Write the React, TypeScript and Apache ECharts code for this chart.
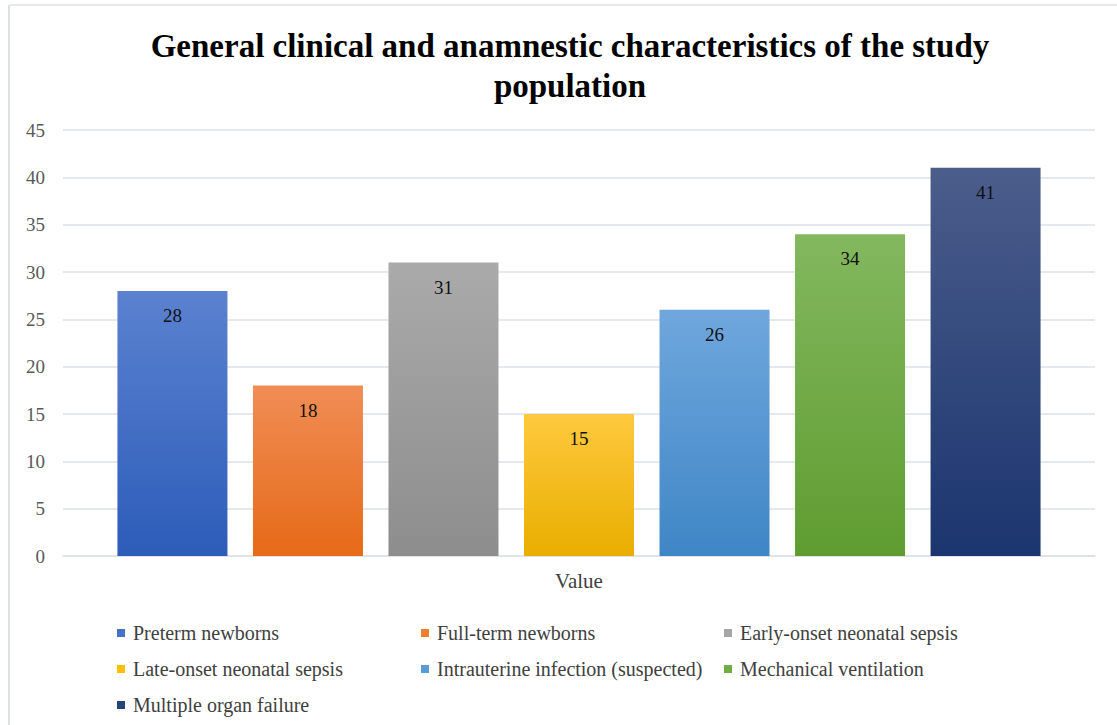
import React, { useEffect, useRef } from "react";
import * as echarts from "echarts";

// Category label on the x axis
const categories = ["Value"];

// One bar per characteristic
const seriesNames = [
  "Preterm newborns",
  "Full-term newborns",
  "Early-onset neonatal sepsis",
  "Late-onset neonatal sepsis",
  "Intrauterine infection (suspected)",
  "Mechanical ventilation",
  "Multiple organ failure",
];
const seriesValues = [28, 18, 31, 15, 26, 34, 41];

// Gradient stops (top, bottom) for each bar
const topColors = ["#5b82d0", "#f08d55", "#aaaaaa", "#fec93e", "#6fa7dd", "#83b85f", "#4b5d8b"];
const bottomColors = ["#2c5cb9", "#e66a18", "#8d8d8d", "#e9ae00", "#3f86c6", "#5f9c30", "#1b356f"];
const legendColors = ["#4472c4", "#ed7d31", "#a5a5a5", "#ffc000", "#5b9bd5", "#70ad47", "#264478"];

// Legend column layout (indices into seriesNames)
const legendColumns = [
  [0, 3, 6],
  [1, 4],
  [2, 5],
];
const legendColumnLeft = [112, 416, 719];

const yTicks = { min: 0, max: 45, interval: 5 };

const FONT = "Liberation Serif";

export default function App() {
  const ref = useRef<HTMLDivElement>(null);

  useEffect(() => {
    if (!ref.current) return;
    const chart = echarts.init(ref.current, undefined, { renderer: "svg" });

    const series = seriesNames.map((name, i) => ({
      name,
      type: "bar",
      data: [seriesValues[i]],
      barWidth: 110,
      barGap: "23.2%",
      itemStyle: {
        color: new echarts.graphic.LinearGradient(0, 0, 0, 1, [
          { offset: 0, color: topColors[i] },
          { offset: 1, color: bottomColors[i] },
        ]),
      },
      label: {
        show: true,
        position: "insideTop",
        distance: 15,
        color: "#111111",
        fontFamily: FONT,
        fontSize: 19,
      },
    }));

    const legends = legendColumns.map((col, c) => ({
      orient: "vertical",
      left: legendColumnLeft[c],
      top: 618,
      icon: "rect",
      itemWidth: 8,
      itemHeight: 8,
      itemGap: 16,
      textStyle: {
        fontFamily: FONT,
        fontSize: 20,
        color: "#404040",
        lineHeight: 20,
        padding: [0, 0, 0, 3],
      },
      data: col.map((i) => ({
        name: seriesNames[i],
        itemStyle: { color: legendColors[i] },
      })),
    }));

    chart.setOption({
      animation: false,
      backgroundColor: "#ffffff",
      title: {
        text: "General clinical and anamnestic characteristics of the study\npopulation",
        left: 565,
        textAlign: "center",
        top: 21,
        textStyle: {
          fontFamily: FONT,
          fontWeight: "bold",
          fontSize: 33,
          lineHeight: 40,
          color: "#000000",
        },
      },
      grid: { left: 63, right: 22, top: 130, bottom: 169, containLabel: false },
      legend: legends,
      xAxis: {
        type: "category",
        data: categories,
        axisLine: { show: true, lineStyle: { color: "#dde1e8", width: 1.5 } },
        axisTick: { show: false },
        axisLabel: {
          margin: 14,
          fontFamily: FONT,
          fontSize: 21,
          color: "#404040",
        },
      },
      yAxis: {
        type: "value",
        min: yTicks.min,
        max: yTicks.max,
        interval: yTicks.interval,
        axisLine: { show: false },
        axisTick: { show: false },
        axisLabel: {
          margin: 18,
          fontFamily: FONT,
          fontSize: 19,
          color: "#595959",
        },
        splitLine: { lineStyle: { color: "#dde1e8", width: 1.5 } },
      },
      graphic: [
        {
          type: "line",
          shape: { x1: 9, y1: 5, x2: 9, y2: 725 },
          style: { stroke: "#dcdfe6", lineWidth: 2 },
          silent: true,
        },
        {
          type: "line",
          shape: { x1: 9, y1: 5, x2: 1117, y2: 5 },
          style: { stroke: "#e6e8ee", lineWidth: 2 },
          silent: true,
        },
      ],
      series,
    });

    return () => chart.dispose();
  }, []);

  return (
    <div
      ref={ref}
      style={{ position: "absolute", left: 0, top: 0, width: 1117, height: 725 }}
    />
  );
}
